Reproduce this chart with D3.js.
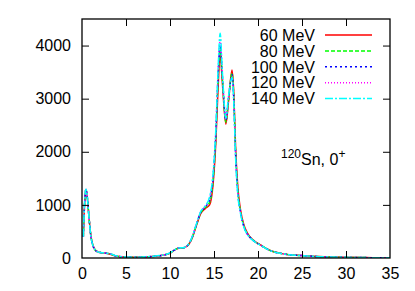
<!DOCTYPE html>
<html>
<head>
<meta charset="utf-8">
<script src="https://cdn.jsdelivr.net/npm/d3@7/dist/d3.min.js"></script>
<style>
  html, body { margin: 0; padding: 0; background: #fff; }
  svg { display: block; font-family: "Liberation Sans", Arial, Helvetica, sans-serif; }
</style>
</head>
<body>
<svg id="chart" width="415" height="291"></svg>
<script>
// ---- Data ----
const energy = [0.15,0.3,0.45,0.6,0.8,1.0,1.25,1.5,1.8,2.2,2.6,3.0,3.4,3.8,4.2,5,6,7,8,9,10,10.5,11,11.5,12,12.5,13,13.5,14,14.5,14.9,15.2,15.45,15.7,15.95,16.35,16.65,17.05,17.25,17.45,17.7,18.0,18.4,18.8,19.3,19.8,20.3,21,21.7,22.5,23.5,25,27,30,33,35];

const mev60  = [400,1030,1280,1140,760,430,235,150,115,100,92,82,62,40,28,17,14,19,28,48,90,150,185,190,230,370,610,840,930,1000,1400,2150,3150,3850,3300,2520,2950,3540,3100,2100,1350,920,620,470,360,295,245,175,122,92,63,46,26,12,6,3];
const mev80  = [400,1040,1290,1145,755,425,232,150,115,100,93,83,65,42,29,17,14,19,29,49,92,150,187,192,234,378,622,855,950,1050,1460,2250,3300,3950,3380,2560,2980,3480,3030,2020,1290,890,600,455,355,290,243,172,121,91,62,45,25,12,6,3];
const mev100 = [400,1045,1295,1148,752,423,231,150,115,100,94,84,67,43,29,18,15,20,29,49,93,150,188,193,236,383,630,865,960,1090,1520,2320,3380,4020,3430,2590,3010,3450,2990,1970,1250,870,590,448,352,288,242,171,120,90,62,45,25,12,6,3];
const mev120 = [400,1048,1298,1150,750,421,230,150,115,100,94,84,68,44,30,18,15,20,30,50,94,150,189,194,238,386,636,873,970,1120,1560,2360,3440,4100,3460,2610,3030,3420,2950,1940,1225,860,585,444,351,286,241,170,120,90,62,45,25,12,6,3];
const mev140 = [400,1050,1300,1150,750,420,230,150,115,100,95,85,70,45,30,18,15,20,30,50,95,150,190,195,240,390,640,880,980,1150,1600,2400,3500,4230,3500,2630,3050,3400,2920,1900,1200,850,580,440,350,285,240,170,120,90,62,45,25,12,6,3];

const seriesNames = ["60 MeV","80 MeV","100 MeV","120 MeV","140 MeV"];
const seriesValues = [mev60, mev80, mev100, mev120, mev140];
const seriesColors = ["#ff0000","#00ff00","#0000ff","#ff00ff","#00ffff"];
const seriesDash = [null, "4,2", "2,3", "1,2", "8,2,2,2"];

const xTicks = [0,5,10,15,20,25,30,35];
const yTicks = [0,1000,2000,3000,4000];
const xDomain = [0,35];
const yDomain = [0,4500];

// ---- Layout ----
const svg = d3.select("#chart");
const L = 82, R = 390, T = 19, B = 258;

const x = d3.scaleLinear().domain(xDomain).range([L, R]);
const y = d3.scaleLinear().domain(yDomain).range([B, T]);

const clipId = "plotclip";
svg.append("defs").append("clipPath").attr("id", clipId)
  .append("rect").attr("x", L).attr("y", T).attr("width", R - L).attr("height", B - T);

// curves
const line = d3.line()
  .x((d, i) => x(energy[i]))
  .y(d => y(d))
  .curve(d3.curveMonotoneX);

const curves = svg.append("g").attr("clip-path", `url(#${clipId})`);
seriesValues.forEach((vals, k) => {
  curves.append("path")
    .datum(vals)
    .attr("d", line)
    .attr("fill", "none")
    .attr("stroke", seriesColors[k])
    .attr("stroke-width", 1.5)
    .attr("stroke-linejoin", "round")
    .attr("stroke-dasharray", seriesDash[k]);
});

// axes (gnuplot-style: inward ticks, mirrored)
const tickLen = 7;
const axisFont = 16;
const fmt = d3.format("d");

const gB = svg.append("g").attr("transform", `translate(0,${B})`)
  .call(d3.axisBottom(x).tickValues(xTicks).tickFormat(fmt).tickSizeInner(-tickLen).tickSizeOuter(0).tickPadding(10));
const gT = svg.append("g").attr("transform", `translate(0,${T})`)
  .call(d3.axisTop(x).tickValues(xTicks).tickSizeInner(-tickLen).tickSizeOuter(0).tickFormat(""));
const gL = svg.append("g").attr("transform", `translate(${L},0)`)
  .call(d3.axisLeft(y).tickValues(yTicks).tickFormat(fmt).tickSizeInner(-tickLen).tickSizeOuter(0).tickPadding(11));
const gR = svg.append("g").attr("transform", `translate(${R},0)`)
  .call(d3.axisRight(y).tickValues(yTicks).tickSizeInner(-tickLen).tickSizeOuter(0).tickFormat(""));

[gB, gT, gL, gR].forEach(g => {
  g.select(".domain").remove();
  g.selectAll(".tick line").attr("stroke", "#000").attr("stroke-width", 1);
  g.selectAll("text").attr("font-size", axisFont).attr("fill", "#000")
    .attr("font-family", "'Liberation Sans', Arial, Helvetica, sans-serif");
});
gB.selectAll(".tick line").filter(d => d === 0 || d === 35).remove();
gT.selectAll(".tick line").filter(d => d === 0 || d === 35).remove();
gL.selectAll(".tick line").filter(d => d === 0).remove();
gR.selectAll(".tick line").filter(d => d === 0).remove();

// frame
svg.append("rect").attr("x", L).attr("y", T).attr("width", R - L).attr("height", B - T)
  .attr("fill", "none").attr("stroke", "#000").attr("stroke-width", 1.3);

// legend
const legX = 315, legY0 = 35, legDy = 15.9;
const leg = svg.append("g");
seriesNames.forEach((name, k) => {
  const yy = legY0 + k * legDy;
  leg.append("text").attr("x", legX).attr("y", yy).attr("dy", "0.36em")
    .attr("text-anchor", "end").attr("font-size", axisFont).attr("fill", "#000")
    .text(name);
  leg.append("line").attr("x1", 325).attr("x2", 372).attr("y1", yy).attr("y2", yy)
    .attr("stroke", seriesColors[k]).attr("stroke-width", 1.5)
    .attr("stroke-dasharray", seriesDash[k]);
});

// annotation
const ann = svg.append("text").attr("x", 281).attr("y", 165).attr("font-size", axisFont).attr("fill", "#000");
ann.append("tspan").attr("font-size", 12).attr("dy", -7).text("120");
ann.append("tspan").attr("dy", 7).text("Sn, 0");
ann.append("tspan").attr("font-size", 12).attr("dy", -7).text("+");
</script>
</body>
</html>
